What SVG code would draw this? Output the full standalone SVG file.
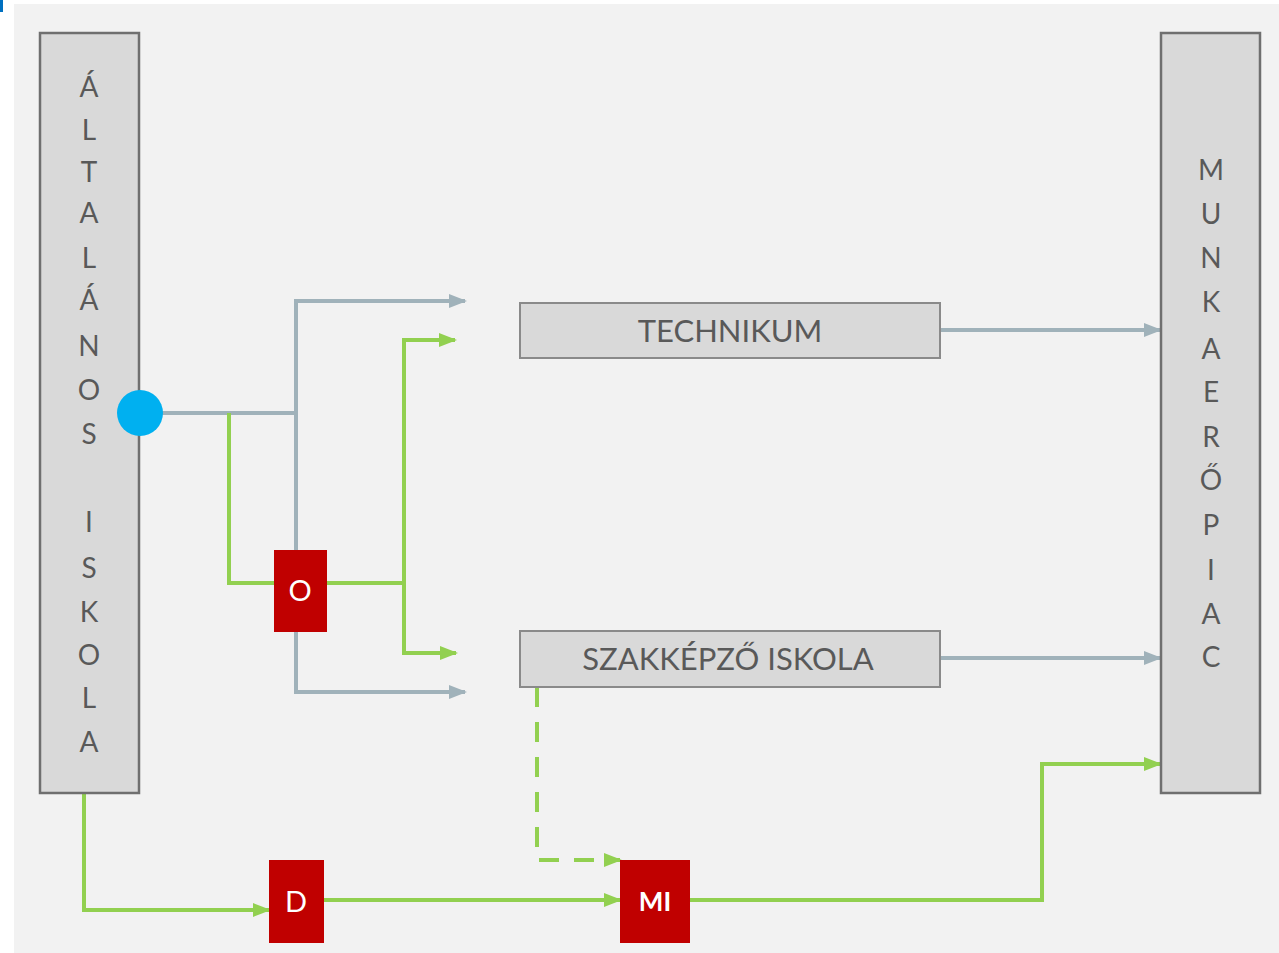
<svg xmlns="http://www.w3.org/2000/svg" width="1279" height="953" viewBox="0 0 1279 953">
<style>
.bar{fill:#d9d9d9;stroke:#6f6f6f;stroke-width:2.5}
.box{fill:#d9d9d9;stroke:#8a8a8a;stroke-width:2}
.red{fill:#c00000}
.lt{font-family:Lato,"Open Sans",sans-serif;font-size:28px;fill:#595959;text-anchor:middle}
.bt{font-family:Lato,"Open Sans",sans-serif;font-size:31px;fill:#595959;text-anchor:middle}
.wt{font-family:Lato,"Open Sans",sans-serif;font-size:29px;fill:#ffffff;text-anchor:middle}
.g{fill:none;stroke:#a0b2ba;stroke-width:4}
.gr{fill:none;stroke:#92d050;stroke-width:4}
</style>
<defs>
<marker id="ag" markerUnits="userSpaceOnUse" markerWidth="18" markerHeight="16" refX="16" refY="8" orient="auto"><path d="M0,1 L18,8 L0,15 Z" fill="#a0b2ba"/></marker>
<marker id="agr" markerUnits="userSpaceOnUse" markerWidth="18" markerHeight="16" refX="16" refY="8" orient="auto"><path d="M0,1 L18,8 L0,15 Z" fill="#92d050"/></marker>
</defs>
<rect x="0" y="0" width="1279" height="953" fill="#ffffff"/>
<rect x="14" y="4" width="1265" height="949" fill="#f2f2f2"/>
<rect x="0" y="0" width="3" height="12" fill="#0070c0"/>
<g id="connectors">
<path class="g" d="M160,413 H296"/>
<path class="g" d="M296,550 V301 H465" marker-end="url(#ag)"/>
<path class="g" d="M296,632 V692 H465" marker-end="url(#ag)"/>
<path class="g" d="M940,330 H1160" marker-end="url(#ag)"/>
<path class="g" d="M940,658 H1160" marker-end="url(#ag)"/>
<path class="gr" d="M229,413 V583 H274"/>
<path class="gr" d="M327,583 H404"/>
<path class="gr" d="M404,583 V340 H455" marker-end="url(#agr)"/>
<path class="gr" d="M404,583 V653 H456" marker-end="url(#agr)"/>
<path class="gr" d="M537,687 V860 H620" stroke-dasharray="20,15" marker-end="url(#agr)"/>
<path class="gr" d="M84,793 V910 H269" marker-end="url(#agr)"/>
<path class="gr" d="M324,900 H620" marker-end="url(#agr)"/>
<path class="gr" d="M690,900 H1042 V764 H1160" marker-end="url(#agr)"/>
</g>
<g id="altalanos-iskola">
<rect class="bar" x="40" y="33" width="99" height="760"/>
<text class="lt" x="89" y="97">Á</text>
<text class="lt" x="89" y="140">L</text>
<text class="lt" x="89" y="182">T</text>
<text class="lt" x="89" y="223">A</text>
<text class="lt" x="89" y="268">L</text>
<text class="lt" x="89" y="310">Á</text>
<text class="lt" x="89" y="356">N</text>
<text class="lt" x="89" y="400">O</text>
<text class="lt" x="89" y="444">S</text>
<text class="lt" x="89" y="532">I</text>
<text class="lt" x="89" y="578">S</text>
<text class="lt" x="89" y="622">K</text>
<text class="lt" x="89" y="665">O</text>
<text class="lt" x="89" y="708">L</text>
<text class="lt" x="89" y="752">A</text>
</g>
<g id="munkaeropiac">
<rect class="bar" x="1161" y="33" width="99" height="760"/>
<text class="lt" x="1211" y="180">M</text>
<text class="lt" x="1211" y="224">U</text>
<text class="lt" x="1211" y="268">N</text>
<text class="lt" x="1211" y="312">K</text>
<text class="lt" x="1211" y="359">A</text>
<text class="lt" x="1211" y="402">E</text>
<text class="lt" x="1211" y="447">R</text>
<text class="lt" x="1211" y="490">Ő</text>
<text class="lt" x="1211" y="535">P</text>
<text class="lt" x="1211" y="580">I</text>
<text class="lt" x="1211" y="624">A</text>
<text class="lt" x="1211" y="667">C</text>
</g>
<g id="start-dot"><circle cx="140" cy="413" r="23" fill="#00b0f0"/></g>
<g id="technikum">
<rect class="box" x="520" y="303" width="420" height="55"/>
<text class="bt" x="730" y="342">TECHNIKUM</text>
</g>
<g id="szakkepzo">
<rect class="box" x="520" y="631" width="420" height="56"/>
<text class="bt" x="728" y="670">SZAKKÉPZŐ ISKOLA</text>
</g>
<g id="node-o">
<rect class="red" x="274" y="550" width="53" height="82"/>
<text class="wt" x="300" y="601">O</text>
</g>
<g id="node-d">
<rect class="red" x="269" y="860" width="55" height="83"/>
<text class="wt" x="296" y="912">D</text>
</g>
<g id="node-mi">
<rect class="red" x="620" y="860" width="70" height="83"/>
<text class="wt" x="655" y="911" style="font-weight:bold;font-size:26px">MI</text>
</g>
</svg>
